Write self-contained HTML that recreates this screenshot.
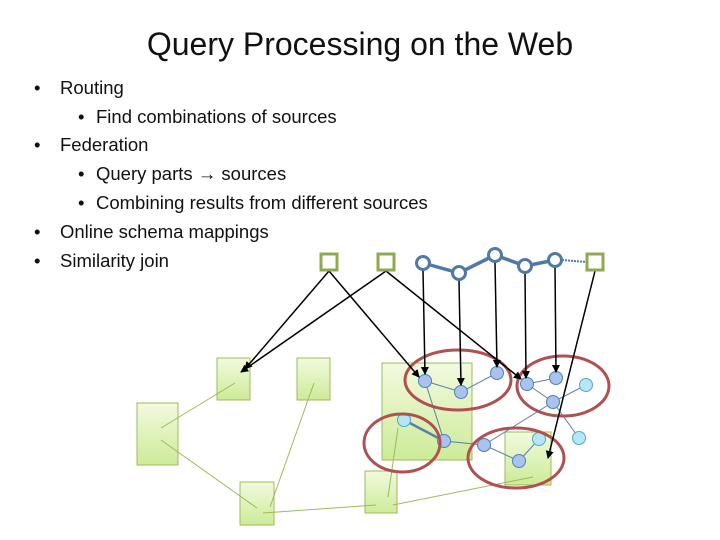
<!DOCTYPE html><html><head><style>body{margin:0;width:720px;height:540px;background:#fff;overflow:hidden;font-family:"Liberation Sans",sans-serif}
.t{position:absolute;left:0;width:720px;top:26px;text-align:center;font-size:32px;color:#111}
ul{position:absolute;margin:0;padding:0;list-style:none;font-size:18.5px;color:#111}
li{position:absolute;white-space:nowrap}
.b{position:absolute;top:0}
</style></head><body>
<div class="t">Query Processing on the Web</div>
<ul>
<li style="left:38px;top:77px"><span class="b" style="left:-4px">•</span><span style="position:absolute;left:22px">Routing</span></li>
<li style="left:82px;top:106px"><span class="b" style="left:-4px">•</span><span style="position:absolute;left:14px">Find combinations of sources</span></li>
<li style="left:38px;top:134px"><span class="b" style="left:-4px">•</span><span style="position:absolute;left:22px">Federation</span></li>
<li style="left:82px;top:163px"><span class="b" style="left:-4px">•</span><span style="position:absolute;left:14px">Query parts → sources</span></li>
<li style="left:82px;top:192px"><span class="b" style="left:-4px">•</span><span style="position:absolute;left:14px">Combining results from different sources</span></li>
<li style="left:38px;top:221px"><span class="b" style="left:-4px">•</span><span style="position:absolute;left:22px">Online schema mappings</span></li>
<li style="left:38px;top:250px"><span class="b" style="left:-4px">•</span><span style="position:absolute;left:22px">Similarity join</span></li>
</ul>
<svg width="720" height="540" style="position:absolute;left:0;top:0">
<defs><linearGradient id="g" x1="0" y1="0" x2="0" y2="1"><stop offset="0" stop-color="#f2fadf"/><stop offset="1" stop-color="#cdeb98"/></linearGradient>
<marker id="a" markerWidth="8" markerHeight="8" refX="7" refY="4" orient="auto" markerUnits="userSpaceOnUse"><path d="M0,0L8,4L0,8z" fill="#000"/></marker></defs>
<g fill="url(#g)" stroke="#9bbb59" stroke-width="1">
<rect x="217" y="358" width="33" height="42"/><rect x="297" y="358" width="33" height="42"/>
<rect x="137" y="403" width="41" height="62"/><rect x="240" y="482" width="34" height="43"/>
<rect x="365" y="471" width="32" height="42"/><rect x="382" y="363" width="90" height="97"/>
<rect x="505" y="432" width="46" height="53"/></g>
<g stroke="#9bbb59" stroke-width="1" fill="none">
<line x1="235" y1="383" x2="161" y2="428"/><line x1="161" y1="440" x2="257" y2="508"/>
<line x1="314" y1="383" x2="270" y2="507"/><line x1="263" y1="513" x2="376" y2="505"/>
<line x1="398" y1="428" x2="388" y2="497"/><line x1="393" y1="505" x2="533" y2="477"/></g>
<g stroke="#5b7fa6" stroke-width="1" fill="none">
<path d="M425,381L461,392L497,373"/><path d="M425,381L444,441L484,445L553,402L586,385"/>
<path d="M527,384L556,378"/><path d="M527,384L553,402L579,438"/><path d="M484,445L519,461L539,439"/></g>
<line x1="404" y1="420" x2="444" y2="441" stroke="#5b7fa6" stroke-width="2.5"/>
<g stroke="#4f81bd" stroke-width="1" fill="#a9c3ee">
<circle cx="425" cy="381" r="6.5"/><circle cx="461" cy="392" r="6.5"/><circle cx="497" cy="373" r="6.5"/>
<circle cx="527" cy="384" r="6.5"/><circle cx="556" cy="378" r="6.5"/><circle cx="553" cy="402" r="6.5"/>
<circle cx="444" cy="441" r="6.5"/><circle cx="484" cy="445" r="6.5"/><circle cx="519" cy="461" r="6.5"/></g>
<g stroke="#4bacc6" stroke-width="1" fill="#b6e6f6">
<circle cx="586" cy="385" r="6.5"/><circle cx="404" cy="420" r="6.5"/><circle cx="539" cy="439" r="6.5"/><circle cx="579" cy="438" r="6.5"/></g>
<g fill="none" stroke="#b05050" stroke-width="3">
<ellipse cx="458" cy="380" rx="53" ry="30"/><ellipse cx="563" cy="386" rx="46" ry="30"/>
<ellipse cx="402" cy="443" rx="38" ry="29"/><ellipse cx="516" cy="458" rx="48" ry="30"/></g>
<g stroke="#000" stroke-width="1.5" marker-end="url(#a)">
<line x1="329" y1="271" x2="419" y2="377"/><line x1="329" y1="271" x2="245" y2="369"/>
<line x1="386" y1="271" x2="241" y2="372"/><line x1="386" y1="271" x2="521" y2="379"/>
<line x1="423" y1="270" x2="425" y2="374"/><line x1="459" y1="280" x2="461" y2="385"/>
<line x1="495" y1="262" x2="497" y2="367"/><line x1="525" y1="273" x2="526" y2="378"/>
<line x1="555" y1="267" x2="556" y2="372"/><line x1="595" y1="271" x2="548" y2="458"/></g>
<path d="M423,263L459,273L495,255L525,266L555,260" stroke="#4f7aa6" stroke-width="3.5" fill="none"/>
<path d="M562,260L587,262" stroke="#4f7aa6" stroke-width="2" stroke-dasharray="2,1" fill="none"/>
<g stroke="#4f7aa6" stroke-width="3" fill="#fff">
<circle cx="423" cy="263" r="6.5"/><circle cx="459" cy="273" r="6.5"/><circle cx="495" cy="255" r="6.5"/>
<circle cx="525" cy="266" r="6.5"/><circle cx="555" cy="260" r="6.5"/></g>
<g stroke="#8faa4e" stroke-width="3" fill="#fff">
<rect x="321" y="254" width="16" height="16"/><rect x="378" y="254" width="16" height="16"/><rect x="587" y="254" width="16" height="16"/></g>
</svg></body></html>
